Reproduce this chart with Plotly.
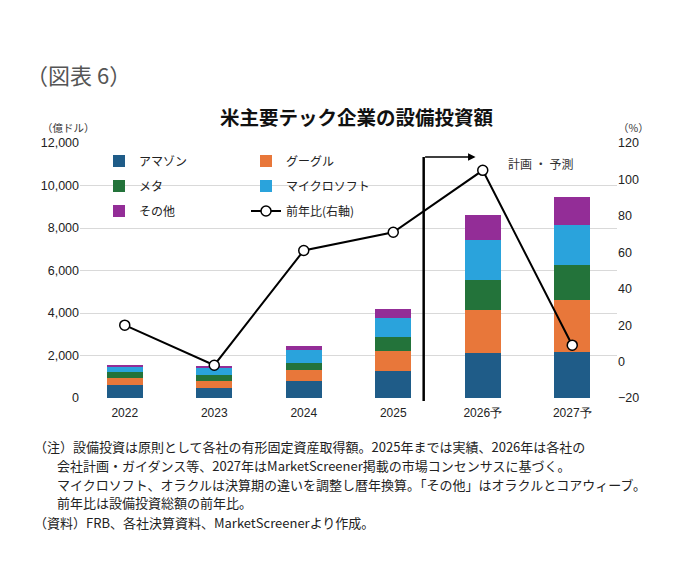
import plotly.graph_objects as go

# data (億ドル / %)
years = ["2022", "2023", "2024", "2025", "2026予", "2027予"]
amazon = [600, 480, 780, 1250, 2120, 2150]
google = [320, 320, 520, 940, 2035, 2480]
meta = [310, 270, 360, 660, 1400, 1650]
microsoft = [240, 330, 610, 910, 1900, 1840]
others = [100, 110, 160, 430, 1160, 1330]
yoy = [20, -2, 61, 71, 105, 9]

series = [
    ("アマゾン", amazon, "#1f5c88", "legend"),
    ("グーグル", google, "#e8773a", "legend"),
    ("メタ", meta, "#23733a", "legend2"),
    ("マイクロソフト", microsoft, "#2aa3dc", "legend2"),
    ("その他", others, "#932d97", "legend3"),
]

FONT = "Noto Sans CJK JP"
NUM_FONT = "Liberation Sans"

# plot area in screen pixels; the page body adds an 8px offset
OFF = 8
L, R, T, B = 80, 617, 143, 398


def px(x):
    return (x - L) / (R - L)


def py(y):
    return (B - y) / (B - T)


fig = go.Figure()

for name, vals, color, lg in series:
    fig.add_trace(go.Bar(
        x=years, y=vals, name=name, legend=lg,
        marker=dict(color=color, line=dict(width=0)),
    ))

fig.add_trace(go.Scatter(
    x=years, y=yoy, name="前年比(右軸)", yaxis="y2", legend="legend3",
    mode="lines+markers",
    line=dict(color="black", width=2),
    marker=dict(symbol="circle", size=10, color="white",
                line=dict(color="black", width=1.5)),
))

leg = dict(orientation="h", xanchor="left", yanchor="middle",
           traceorder="normal",
           entrywidth=102, entrywidthmode="pixels",
           bgcolor="rgba(0,0,0,0)", font=dict(size=12, color="#222"),
           itemclick=False, tracegroupgap=0)

fig.update_layout(
    width=680, height=565,
    margin=dict(l=L - OFF, r=680 - (R - OFF), t=T - OFF, b=565 - (B - OFF)),
    paper_bgcolor="white", plot_bgcolor="white",
    font=dict(family=FONT, color="#222"),
    barmode="stack", bargap=0.6,
    xaxis=dict(type="category", showgrid=False, showline=False,
               ticks="", ticklabelstandoff=6,
               tickfont=dict(size=12, color="#222", family=NUM_FONT)),
    yaxis=dict(range=[0, 12000], dtick=2000, tickformat=",d",
               showgrid=True, gridcolor="#d9d9d9", gridwidth=1,
               zeroline=False, ticks="",
               tickfont=dict(size=12.5, color="#222", family=NUM_FONT)),
    yaxis2=dict(range=[-20, 120], dtick=20, overlaying="y", side="right",
                showgrid=False, zeroline=False, ticks="",
                tickfont=dict(size=12.5, color="#222", family=NUM_FONT)),
    legend=dict(leg, x=px(99), y=py(161)),
    legend2=dict(leg, x=px(99), y=py(186)),
    legend3=dict(leg, x=px(99), y=py(211)),
    showlegend=True,
)

# boundary between actuals and plans/forecasts
fig.add_shape(type="line", xref="x", yref="paper",
              x0=3.34, x1=3.34, y0=py(401), y1=py(157),
              line=dict(color="black", width=2.5))
fig.add_annotation(xref="x", yref="paper", x=3.92, y=py(157),
                   ax=-52, ay=0, text="", showarrow=True,
                   arrowhead=2, arrowsize=1, arrowwidth=1.5, arrowcolor="black")

texts = [
    ("米主要テック企業の設備投資額", 357, 117, 19.5, "center", "#111", True),
    ("（図表 6）", 24, 74, 22, "left", "#555", False),
    ("（億ドル）", 40, 127, 10.5, "left", "#333", False),
    ("（%）", 616, 127, 10.5, "left", "#333", False),
    ("計画 ・ 予測", 506, 163, 12, "left", "#333", False),
    ("（注）設備投資は原則として各社の有形固定資産取得額。2025年までは実績、2026年は各社の",
     32, 446, 13, "left", "#222", False),
    ("会社計画・ガイダンス等、2027年はMarketScreener掲載の市場コンセンサスに基づく。",
     55, 465, 13, "left", "#222", False),
    ("マイクロソフト、オラクルは決算期の違いを調整し暦年換算。「その他」はオラクルとコアウィーブ。",
     55, 484, 13, "left", "#222", False),
    ("前年比は設備投資総額の前年比。", 55, 503, 13, "left", "#222", False),
    ("（資料）FRB、各社決算資料、MarketScreenerより作成。", 32, 522, 13, "left", "#222", False),
]
for text, x, y, size, anchor, color, bold in texts:
    fig.add_annotation(
        xref="paper", yref="paper", x=px(x), y=py(y),
        xanchor=anchor, yanchor="middle", showarrow=False,
        text=f"<b>{text}</b>" if bold else text,
        font=dict(size=size, color=color, family=FONT),
    )

fig.write_html("out.html")
